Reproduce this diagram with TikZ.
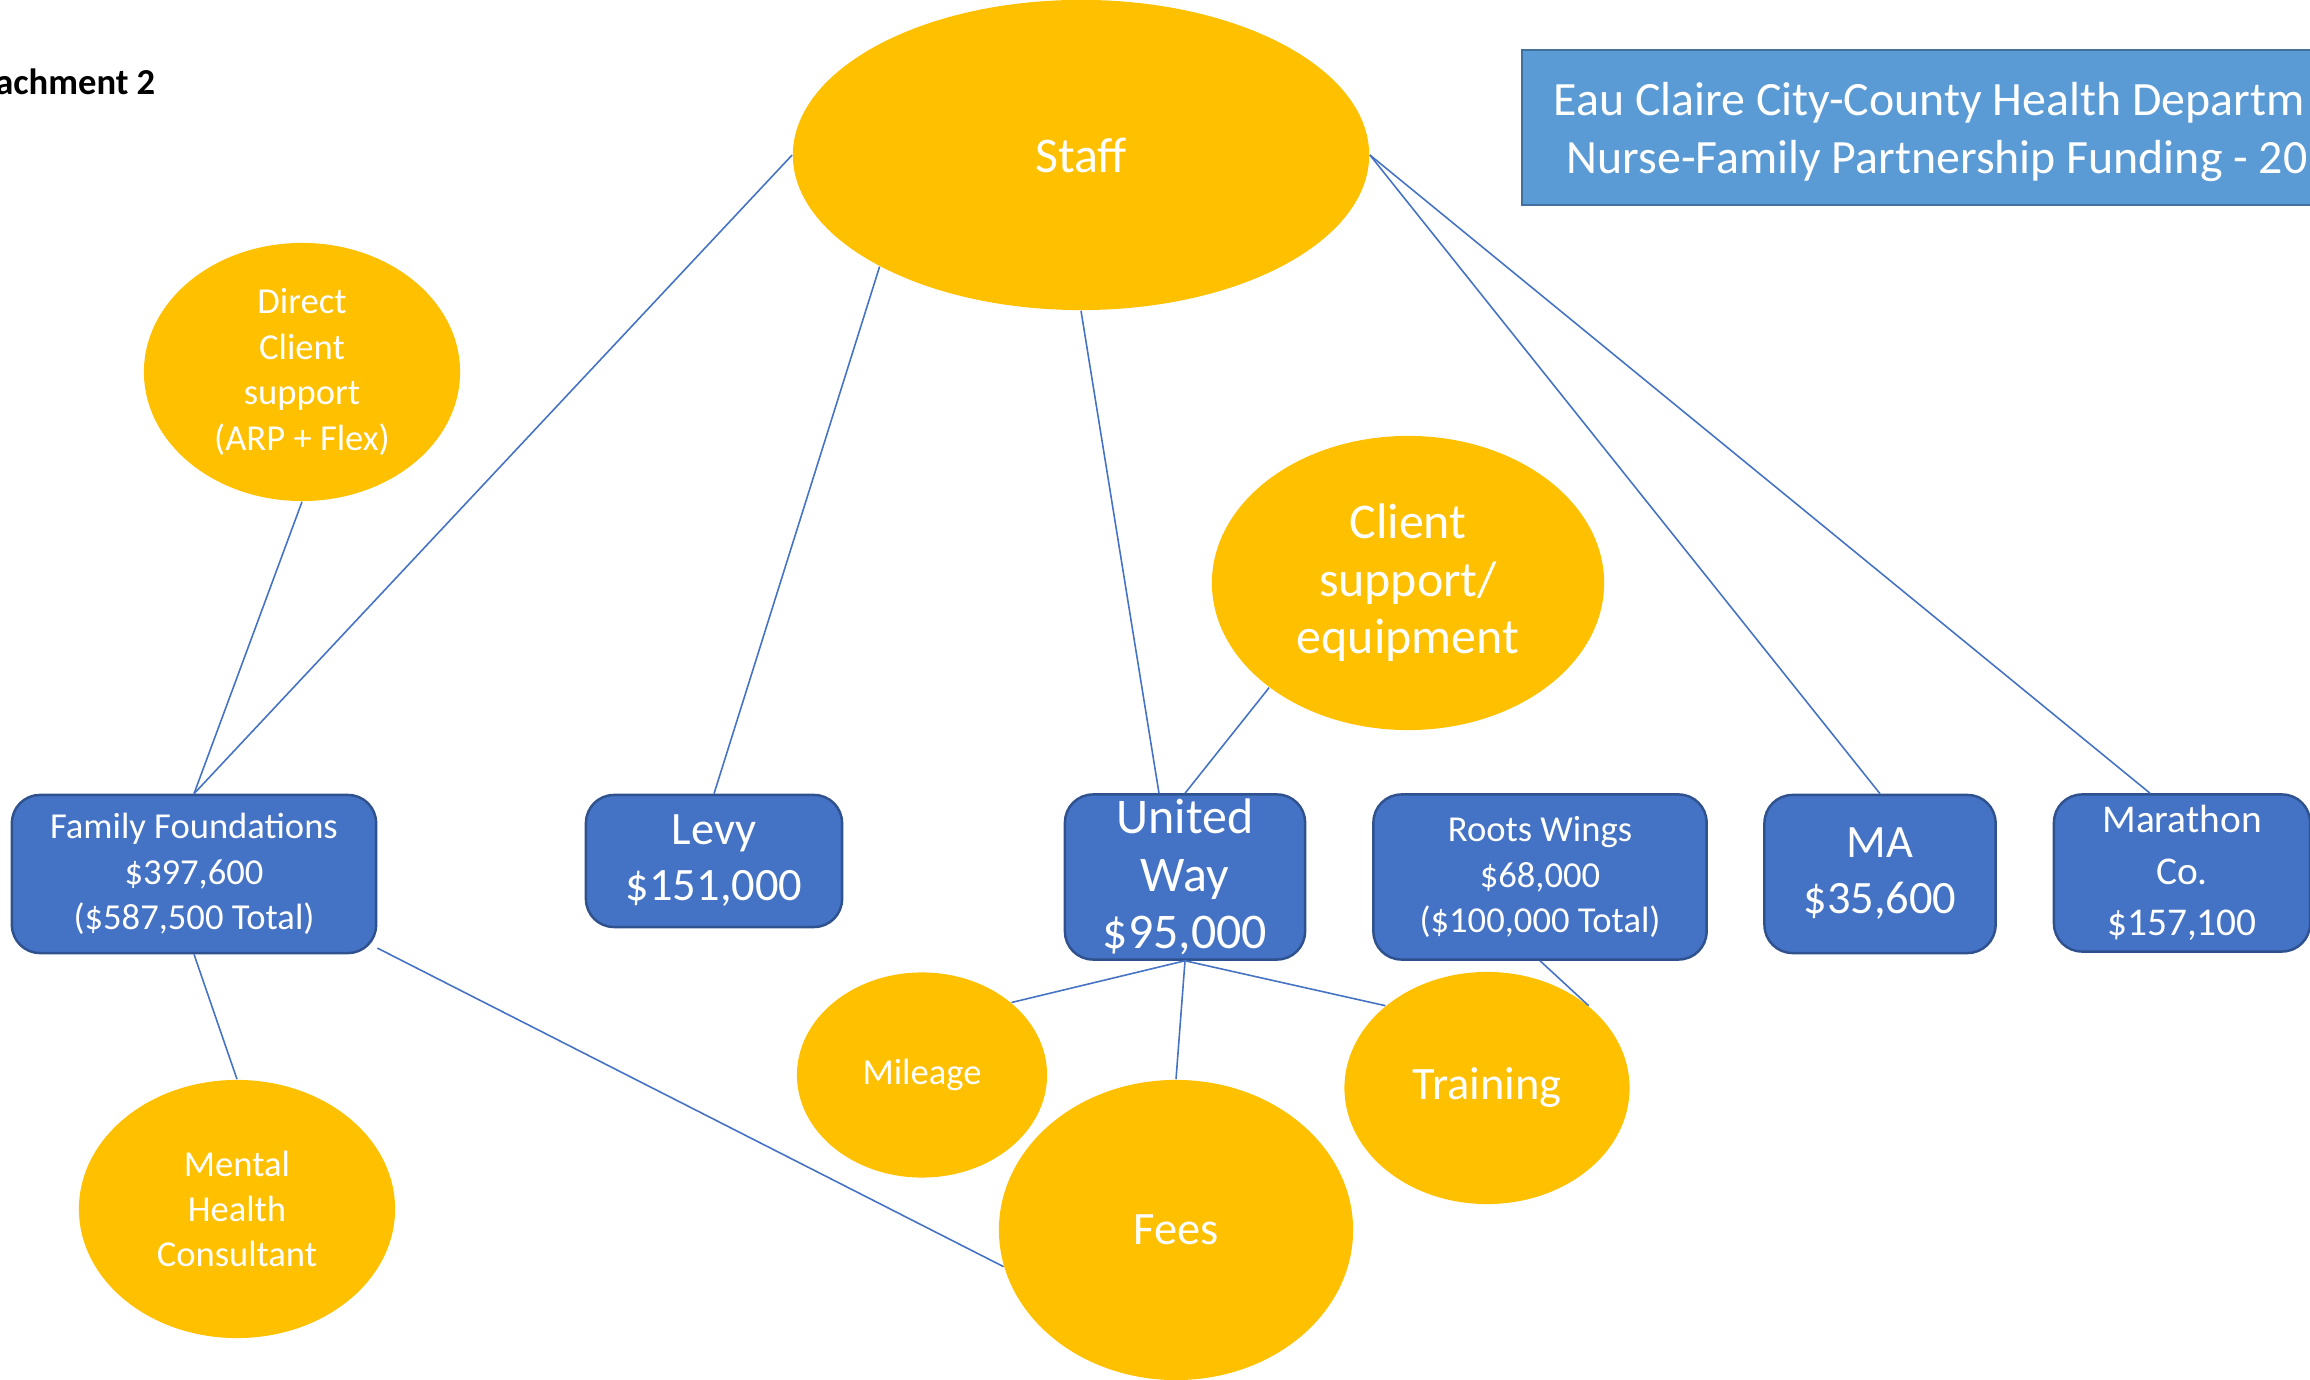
\documentclass[tikz,border=0pt]{standalone}
\usepackage{fontspec}
\setmainfont{Carlito}
\usepackage{tikz}
\usetikzlibrary{shapes,positioning}

\definecolor{gold}{HTML}{FFC000}
\definecolor{boxblue}{HTML}{4472C4}
\definecolor{boxedge}{HTML}{2F528F}
\definecolor{titleblue}{HTML}{5B9BD5}
\definecolor{titleedge}{HTML}{41719C}
\definecolor{linkblue}{HTML}{4472C4}

\begin{document}
\begin{tikzpicture}[x=0.01cm, y=-0.01cm,
  fundbox/.style={rectangle, rounded corners=0.28cm, draw=boxedge, line width=0.7pt,
    fill=boxblue, text=white, align=center, inner sep=0pt},
  spendnode/.style={ellipse, fill=gold, text=white, align=center, inner sep=0pt},
  link/.style={draw=linkblue, line width=0.45pt},
  txtsmall/.style={font=\fontsize{10.4}{12.9}\selectfont},
  txtmid/.style={font=\fontsize{13.2}{15.9}\selectfont},
  txtbig/.style={font=\fontsize{14.2}{16.4}\selectfont},
  titletxt/.style={anchor=base west, inner sep=0pt, text=white, font=\fontsize{13.6}{16}\selectfont}]

\clip (0,0) rectangle (2310,1380);

% heading and title
\node[anchor=base east, inner sep=0pt, font=\bfseries\fontsize{10.4}{12}\selectfont] (attach) at (156,95) {achment 2};
\draw[fill=titleblue, draw=titleedge, line width=0.7pt] (1522,50) rectangle (2340,205);
\node[titletxt] (title1) at (1553,116) {Eau Claire City-County Health Departm};
\node[titletxt] (title2) at (1566,174) {Nurse-Family Partnership Funding - 20};

% what the money pays for
\node[spendnode, txtbig, minimum width=5.76cm, minimum height=3.1cm] (staff) at (1081,155) {Staff};
\node[spendnode, txtsmall, minimum width=3.16cm, minimum height=2.58cm] (dcs) at (302,372) {Direct\\Client\\support\\(ARP + Flex)};
\node[spendnode, txtbig, minimum width=3.92cm, minimum height=2.94cm] (cse) at (1408,583) {Client\\support/\\equipment};
\node[spendnode, txtsmall, minimum width=2.5cm, minimum height=2.05cm] (mileage) at (922,1075) {Mileage};
\node[spendnode, txtmid, minimum width=3.54cm, minimum height=3.0cm] (fees) at (1176,1230) {Fees};
\node[spendnode, txtmid, minimum width=2.85cm, minimum height=2.32cm] (training) at (1487,1088) {Training};
\node[spendnode, txtsmall, minimum width=3.16cm, minimum height=2.58cm] (mhc) at (237,1209) {Mental\\Health\\Consultant};

% where the money comes from
\node[fundbox, txtsmall, minimum width=3.64cm, minimum height=1.58cm] (ff) at (194,874) {Family Foundations\\\$397,600\\(\$587,500 Total)};
\node[fundbox, txtmid, minimum width=2.56cm, minimum height=1.32cm] (levy) at (714,861) {Levy\\\$151,000};
\node[fundbox, txtbig, minimum width=2.40cm, minimum height=1.65cm] (uw) at (1185,877) {United\\Way\\\$95,000};
\node[fundbox, txtsmall, minimum width=3.33cm, minimum height=1.65cm] (rw) at (1540,877) {Roots Wings\\\$68,000\\(\$100,000 Total)};
\node[fundbox, txtmid, minimum width=2.31cm, minimum height=1.58cm] (ma) at (1880,874) {MA\\\$35,600};
\node[fundbox, font=\fontsize{11.2}{14.6}\selectfont, minimum width=2.56cm, minimum height=1.57cm] (mar) at (2182,873) {Marathon\\Co.\\\$157,100};

\foreach \a/\b in {staff.west/ff.north, dcs.south/ff.north, staff.209/levy.north,
                   cse.217/uw.north, staff.east/ma.north, ff.south/mhc.north,
                   ff.-22/fees.192, uw.south/mileage.39, uw.south/fees.north,
                   uw.south/training.141, rw.south/training.39}
  \draw[link] (\a) -- (\b);

\draw[link] (staff.south) -- ([xshift=-0.26cm]uw.north);
\draw[link] (staff.east) -- ([xshift=-0.32cm]mar.north);
\end{tikzpicture}
\end{document}
